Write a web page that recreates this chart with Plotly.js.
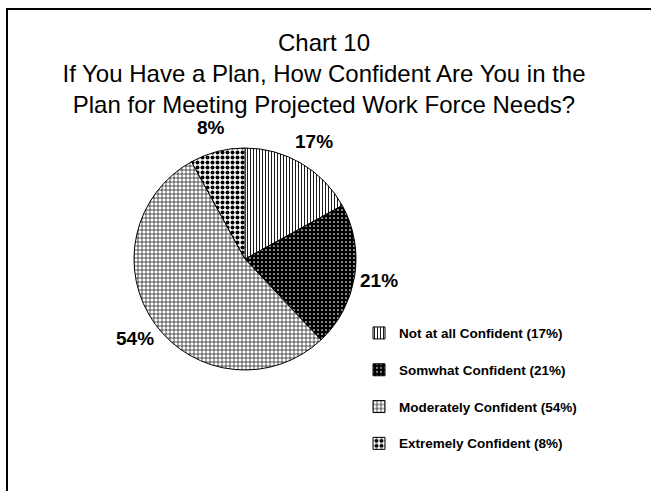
<!DOCTYPE html>
<html>
<head>
<meta charset="utf-8">
<script src="https://cdn.plot.ly/plotly-3.0.1.min.js"></script>
<style>html,body{margin:0;padding:0;background:#fff;}#chart{width:651px;height:491px;}</style>
</head>
<body>
<div id="chart"></div>
<script>
const categories = ["Not at all Confident (17%)", "Somwhat Confident (21%)", "Moderately Confident (54%)", "Extremely Confident (8%)"];
const values = [17, 21, 54, 8];
const sliceLabels = ["17%", "21%", "54%", "8%"];
const titleLines = ["Chart 10", "If You Have a Plan, How Confident Are You in the", "Plan for Meeting Projected Work Force Needs?"];

const W = 651, H = 491;
const FONT = "Liberation Sans, Arial, Helvetica, sans-serif";
const pieDomain = {x: [134 / W, 356 / W], y: [1 - 370 / H, 1 - 148 / H]};

// legend rows: label plus a blank second line so the rows get the reference's spacing
const legendText = categories.map(c => "<span style=\"font-size:13.5px\">" + c + "</span><br>\u00a0");

const trace = {
  type: "pie",
  labels: legendText,
  values: values,
  textinfo: "none",
  sort: false,
  direction: "clockwise",
  rotation: 0,
  hoverinfo: "none",
  domain: pieDomain,
  marker: {
    colors: ["#ffffff", "#000000", "#ffffff", "#ffffff"],
    line: {color: "#000", width: 1},
    pattern: {
      shape: ["|", ".", "+", "."],
      fgcolor: ["#000", "#fff", "#000", "#000"],
      bgcolor: ["#fff", "#000", "#fff", "#fff"],
      size: [3, 4, 4, 5],
      solidity: [0.3, 0.15, 0.3, 0.5]
    }
  }
};

// percentage labels placed outside each slice at its mid angle
const total = values.reduce((a, b) => a + b, 0);
const cx = (pieDomain.x[0] + pieDomain.x[1]) / 2 * W;
const cy = (1 - (pieDomain.y[0] + pieDomain.y[1]) / 2) * H;
const LABEL_R = 136;
let cum = 0;
const labelAnnotations = values.map((v, i) => {
  const mid = (cum + v / 2) / total * 2 * Math.PI;
  cum += v;
  return {
    xref: "paper", yref: "paper",
    x: (cx + LABEL_R * Math.sin(mid)) / W,
    y: 1 - (cy - LABEL_R * Math.cos(mid)) / H,
    xanchor: "center", yanchor: "middle",
    text: sliceLabels[i], showarrow: false,
    font: {family: FONT, size: 19, color: "#000", weight: "bold"}
  };
});

const layout = {
  width: W, height: H,
  margin: {l: 0, r: 0, t: 0, b: 0},
  paper_bgcolor: "#fff",
  font: {family: FONT, color: "#000"},
  title: {
    text: titleLines.join("<br>"),
    font: {family: FONT, size: 24, color: "#000"},
    x: 324 / W, xanchor: "center", xref: "paper",
    y: 1 - 51 / H, yanchor: "top", yref: "container"
  },
  showlegend: true,
  legend: {
    x: 359 / W, xanchor: "left",
    y: 1 - 318 / H, yanchor: "top",
    valign: "top",
    font: {family: FONT, size: 13, color: "#000", weight: "bold"},
    bgcolor: "rgba(0,0,0,0)"
  },
  annotations: labelAnnotations,
  shapes: [{
    type: "rect", xref: "paper", yref: "paper",
    x0: 7 / W, x1: 1.05, y0: -0.05, y1: 1 - 9 / H,
    line: {color: "#000", width: 2}, fillcolor: "rgba(0,0,0,0)"
  }]
};

Plotly.newPlot("chart", [trace], layout, {displayModeBar: false, staticPlot: true});
</script>
</body>
</html>
